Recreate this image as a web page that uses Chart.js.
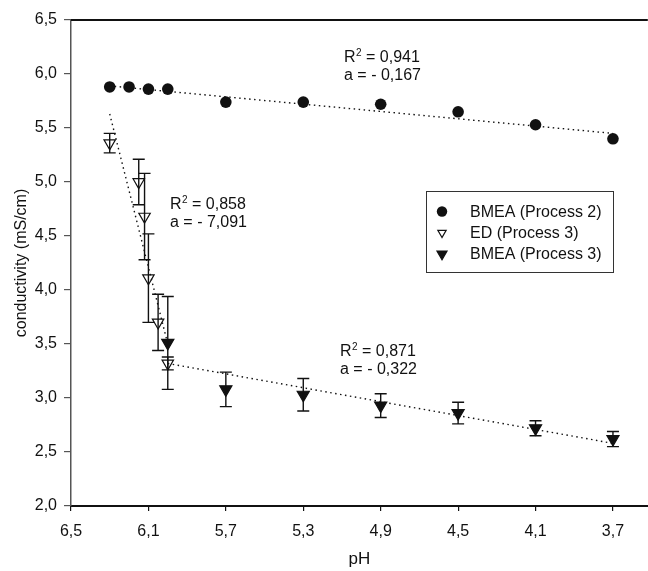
<!DOCTYPE html>
<html>
<head>
<meta charset="utf-8">
<script src="https://cdn.jsdelivr.net/npm/chart.js@4.4.0/dist/chart.umd.min.js"></script>
<style>
  html, body { margin: 0; padding: 0; background: #fff; overflow: hidden; }
  /* the plot runs off the right edge of the picture, so the canvas is a bit wider than the frame */
  #wrap { width: 648px; height: 571px; overflow: hidden; }
</style>
</head>
<body>
<div id="wrap"><canvas id="condChart" width="656" height="571"></canvas></div>
<script>
// BMEA (Process 2)
const phP2 = [6.3, 6.2, 6.1, 6.0, 5.7, 5.3, 4.9, 4.5, 4.1, 3.7];
const condP2 = [5.88, 5.88, 5.86, 5.86, 5.74, 5.74, 5.72, 5.65, 5.53, 5.40];

// ED (Process 3)
const phEd = [6.3, 6.15, 6.12, 6.1, 6.05, 6.0];
const condEd = [5.36, 5.0, 4.68, 4.11, 3.70, 3.32];
const errEd = [0.09, 0.21, 0.40, 0.41, 0.26, 0.06];

// BMEA (Process 3)
const phP3 = [6.0, 5.7, 5.3, 4.9, 4.5, 4.1, 3.7];
const condP3 = [3.51, 3.08, 3.03, 2.93, 2.86, 2.72, 2.62];
const errP3 = [0.43, 0.16, 0.15, 0.11, 0.10, 0.07, 0.07];

// linear fits (end points)
const fitP2Ph = [6.3, 3.7];
const fitP2Cond = [5.89, 5.45];
const fitEdPh = [6.3, 6.0];
const fitEdCond = [5.63, 3.50];
const fitP3Ph = [6.0, 3.7];
const fitP3Cond = [3.32, 2.58];

const fitR2 = ['0,941', '0,858', '0,871'];
const fitSlope = ['- 0,167', '- 7,091', '- 0,322'];

const xTicks = [6.5, 6.1, 5.7, 5.3, 4.9, 4.5, 4.1, 3.7];
const yTicks = [2.0, 2.5, 3.0, 3.5, 4.0, 4.5, 5.0, 5.5, 6.0, 6.5];

const legendLabels = ['BMEA (Process 2)', 'ED (Process 3)', 'BMEA (Process 3)'];

const FONT = '"Liberation Sans", Arial, sans-serif';
const INK = '#111';

const toPoints = (xs, ys) => xs.map((x, i) => ({ x: x, y: ys[i] }));
const comma = v => v.toFixed(1).replace('.', ',');

// where the fit labels sit (canvas px)
const fitLabelPos = [
  { x: 344, y: 62 },
  { x: 170, y: 209 },
  { x: 340, y: 356 }
];

function drawMarker(ctx, style, x, y) {
  ctx.save();
  ctx.lineWidth = 1.2;
  ctx.strokeStyle = INK;
  ctx.beginPath();
  if (style === 'circle') {
    ctx.arc(x, y, 5.2, 0, Math.PI * 2);
    ctx.fillStyle = INK;
    ctx.fill();
  } else {
    const r = style === 'open' ? 4.8 : 5.8;
    ctx.moveTo(x, y + r);
    ctx.lineTo(x - r * Math.sin(Math.PI / 3), y - r / 2);
    ctx.lineTo(x + r * Math.sin(Math.PI / 3), y - r / 2);
    ctx.closePath();
    ctx.fillStyle = style === 'open' ? '#fff' : INK;
    ctx.fill();
    ctx.stroke();
  }
  ctx.restore();
}

const errorBars = {
  id: 'errorBars',
  afterDatasetsDraw(chart) {
    const { ctx, scales: { x, y } } = chart;
    ctx.save();
    ctx.strokeStyle = INK;
    ctx.lineWidth = 1.4;
    chart.data.datasets.forEach(ds => {
      if (!ds.errors) return;
      ds.data.forEach((p, i) => {
        const px = x.getPixelForValue(p.x);
        const top = y.getPixelForValue(p.y + ds.errors[i]);
        const bot = y.getPixelForValue(p.y - ds.errors[i]);
        ctx.beginPath();
        ctx.moveTo(px, top); ctx.lineTo(px, bot);
        ctx.moveTo(px - 6, top); ctx.lineTo(px + 6, top);
        ctx.moveTo(px - 6, bot); ctx.lineTo(px + 6, bot);
        ctx.stroke();
      });
    });
    ctx.restore();
  }
};

const decorations = {
  id: 'decorations',
  afterDraw(chart) {
    const { ctx, chartArea } = chart;
    ctx.save();

    // top frame line
    ctx.strokeStyle = INK;
    ctx.lineWidth = 2;
    ctx.beginPath();
    ctx.moveTo(chartArea.left, chartArea.top);
    ctx.lineTo(chartArea.right, chartArea.top);
    ctx.stroke();

    // fit labels
    ctx.fillStyle = INK;
    ctx.textBaseline = 'alphabetic';
    fitLabelPos.forEach((pos, i) => {
      ctx.font = '16px ' + FONT;
      ctx.fillText('R', pos.x, pos.y);
      let w = ctx.measureText('R').width;
      ctx.font = '10px ' + FONT;
      ctx.fillText('2', pos.x + w + 0.5, pos.y - 6);
      w += ctx.measureText('2').width + 0.5;
      ctx.font = '16px ' + FONT;
      ctx.fillText(' = ' + fitR2[i], pos.x + w, pos.y);
      ctx.fillText('a = ' + fitSlope[i], pos.x, pos.y + 18);
    });

    // legend
    ctx.lineWidth = 1;
    ctx.strokeStyle = '#333';
    ctx.strokeRect(426.5, 191.5, 187, 81);
    const styles = ['circle', 'open', 'filled'];
    ctx.font = '16px ' + FONT;
    ctx.textBaseline = 'middle';
    legendLabels.forEach((label, i) => {
      const ly = 211.5 + i * 21.2;
      drawMarker(ctx, styles[i], 442, ly);
      ctx.fillStyle = INK;
      ctx.fillText(label, 470, ly + 1);
    });

    ctx.restore();
  }
};

const fitLine = (xs, ys) => ({
  type: 'line',
  data: toPoints(xs, ys),
  showLine: true,
  borderColor: INK,
  borderWidth: 1.4,
  borderDash: [1.5, 3.5],
  pointRadius: 0,
  fill: false
});

const ctx = document.getElementById('condChart').getContext('2d');

new Chart(ctx, {
  type: 'scatter',
  data: {
    datasets: [
      fitLine(fitP2Ph, fitP2Cond),
      fitLine(fitEdPh, fitEdCond),
      fitLine(fitP3Ph, fitP3Cond),
      {
        label: legendLabels[0],
        data: toPoints(phP2, condP2),
        pointStyle: 'circle',
        pointRadius: 5.8,
        backgroundColor: INK,
        borderColor: INK,
        borderWidth: 0
      },
      {
        label: legendLabels[1],
        data: toPoints(phEd, condEd),
        errors: errEd,
        pointStyle: 'triangle',
        rotation: 180,
        pointRadius: 6.6,
        backgroundColor: '#fff',
        borderColor: INK,
        borderWidth: 1.2
      },
      {
        label: legendLabels[2],
        data: toPoints(phP3, condP3),
        errors: errP3,
        pointStyle: 'triangle',
        rotation: 180,
        pointRadius: 7,
        backgroundColor: INK,
        borderColor: INK,
        borderWidth: 1.2
      }
    ]
  },
  options: {
    responsive: false,
    animation: false,
    layout: { padding: { top: 20, right: 0, left: 0, bottom: 0 } },
    plugins: {
      legend: { display: false },
      tooltip: { enabled: false }
    },
    scales: {
      x: {
        type: 'linear',
        reverse: true,
        min: 3.52,
        max: 6.5,
        afterFit: scale => { scale.height = 65; },
        afterBuildTicks: scale => { scale.ticks = xTicks.map(v => ({ value: v })); },
        border: { display: true, color: INK, width: 2 },
        grid: { display: true, drawOnChartArea: false, drawTicks: true, tickLength: 5, color: INK, lineWidth: 1.2 },
        ticks: {
          padding: 11,
          maxRotation: 0,
          color: INK,
          font: { family: FONT, size: 16 },
          callback: v => comma(v)
        },
        title: {
          display: true,
          text: 'pH',
          color: INK,
          font: { family: FONT, size: 17 },
          padding: { top: 0, bottom: 1 }
        }
      },
      y: {
        min: 2,
        max: 6.5,
        afterFit: scale => { scale.width = 71; },
        afterBuildTicks: scale => { scale.ticks = yTicks.map(v => ({ value: v })); },
        border: { display: true, color: '#555', width: 1.5 },
        grid: { display: true, drawOnChartArea: false, drawTicks: true, tickLength: 7, color: '#555', lineWidth: 1.2 },
        ticks: {
          padding: 7,
          color: INK,
          font: { family: FONT, size: 16 },
          callback: v => comma(v)
        },
        title: {
          display: true,
          text: 'conductivity (mS/cm)',
          color: INK,
          font: { family: FONT, size: 16 },
          padding: { top: 12, bottom: 0 }
        }
      }
    }
  },
  plugins: [errorBars, decorations]
});
</script>
</body>
</html>
